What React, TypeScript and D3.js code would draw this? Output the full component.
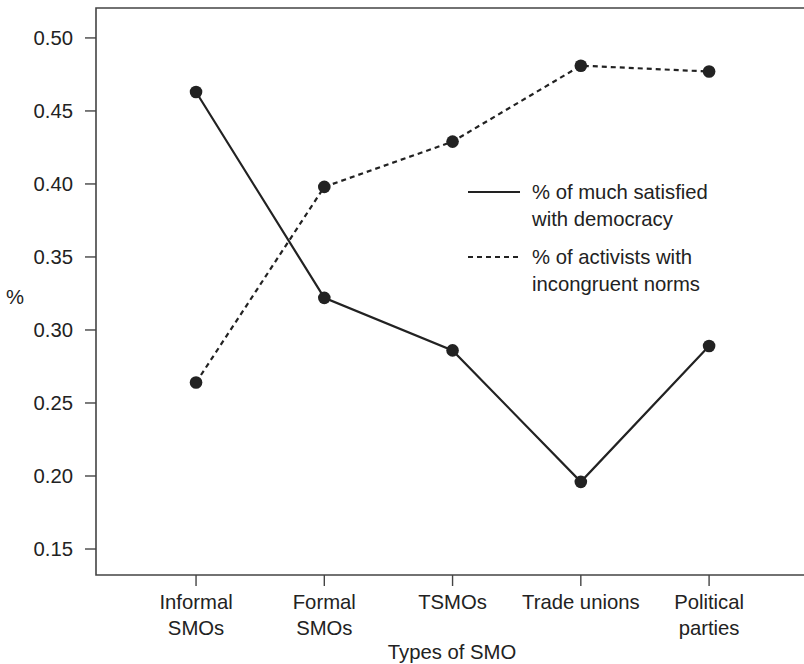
import React from "react";
import * as d3 from "d3";

const categories: string[][] = [
  ["Informal", "SMOs"],
  ["Formal", "SMOs"],
  ["TSMOs"],
  ["Trade unions"],
  ["Political", "parties"],
];
const satisfied = [0.463, 0.322, 0.286, 0.196, 0.289];
const incongruent = [0.264, 0.398, 0.429, 0.481, 0.477];
const yTicks = [0.15, 0.2, 0.25, 0.3, 0.35, 0.4, 0.45, 0.5];
const legendLabels: string[][] = [
  ["% of much satisfied", "with democracy"],
  ["% of activists with", "incongruent norms"],
];

const W = 804, H = 664;
const L = 96, T = 8, B = 575;
const INK = "#222";
const FRAME = "#444";
const FONT = "'Liberation Sans', Arial, Helvetica, sans-serif";
const FS = 20.3;

export default function App() {
  const x = d3.scaleLinear().domain([-0.78, 4.74]).range([L, 804]);
  const y = d3.scaleLinear().domain([0.1322, 0.5205]).range([B, T]);
  const line = d3
    .line<number>()
    .x((_, i) => x(i))
    .y((d) => y(d));

  return (
    <svg
      width={W}
      height={H}
      style={{ position: "absolute", left: 0, top: 0, background: "#fff", overflow: "hidden" }}
      fontFamily={FONT}
    >
      <path
        d={`M${W},${T}H${L}V${B}H${W}`}
        fill="none"
        stroke={FRAME}
        strokeWidth={1.6}
      />
      {yTicks.map((t) => (
        <g key={t}>
          <line x1={85} x2={L} y1={y(t)} y2={y(t)} stroke={FRAME} strokeWidth={1.4} />
          <text x={73} y={y(t)} dy="0.35em" textAnchor="end" fontSize={FS} fill={INK}>
            {t.toFixed(2)}
          </text>
        </g>
      ))}
      <text x={15} y={297} dy="0.35em" textAnchor="middle" fontSize={FS} fill={INK}>
        %
      </text>
      {categories.map((lines, i) => (
        <g key={i}>
          <line x1={x(i)} x2={x(i)} y1={B} y2={586} stroke={FRAME} strokeWidth={1.4} />
          {lines.map((s, j) => (
            <text
              key={j}
              x={x(i)}
              y={602 + j * 26}
              dy="0.35em"
              textAnchor="middle"
              fontSize={FS}
              fill={INK}
            >
              {s}
            </text>
          ))}
        </g>
      ))}
      <text x={452} y={652} dy="0.35em" textAnchor="middle" fontSize={FS} fill={INK}>
        Types of SMO
      </text>

      <path d={line(satisfied) || ""} fill="none" stroke={INK} strokeWidth={2.2} />
      <path
        d={line(incongruent) || ""}
        fill="none"
        stroke={INK}
        strokeWidth={2.2}
        strokeDasharray="5,4"
      />
      {satisfied.map((v, i) => (
        <circle key={"s" + i} cx={x(i)} cy={y(v)} r={6.3} fill={INK} />
      ))}
      {incongruent.map((v, i) => (
        <circle key={"c" + i} cx={x(i)} cy={y(v)} r={6.3} fill={INK} />
      ))}

      {legendLabels.map((lines, k) => {
        const ly = 192 + k * 65;
        return (
          <g key={k}>
            <line
              x1={468}
              x2={520}
              y1={ly}
              y2={ly}
              stroke={INK}
              strokeWidth={2.2}
              strokeDasharray={k === 1 ? "5,4" : undefined}
            />
            {lines.map((s, j) => (
              <text key={j} x={532} y={ly + j * 27} dy="0.35em" fontSize={FS} fill={INK}>
                {s}
              </text>
            ))}
          </g>
        );
      })}
    </svg>
  );
}
